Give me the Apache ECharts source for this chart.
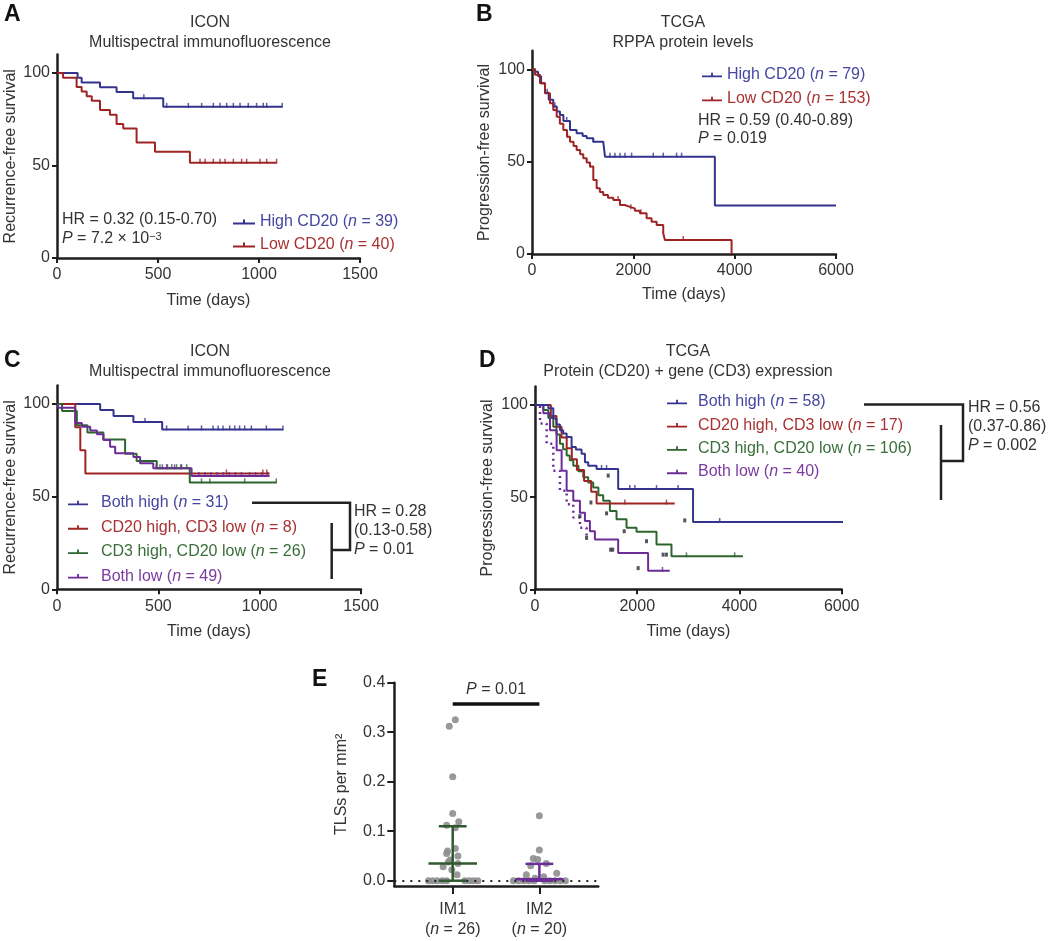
<!DOCTYPE html>
<html><head><meta charset="utf-8">
<script src="https://cdn.jsdelivr.net/npm/echarts@6/dist/echarts.min.js"></script>
<style>html,body{margin:0;padding:0;background:#fff}#c{width:1050px;height:941px}</style>
</head><body><div id="c"></div>
<script>
// ---------- Panel A (ICON, recurrence-free) ----------
const aHighT=[0,102,122,213,295,377,526,1115];
const aHighS=[100,97.4,94.9,92.3,89.7,86.4,81.7,81.7];
const aHighCens=[430,543,650,716,774,807,840,873,906,947,988,1021,1038,1115];
const aLowT=[0,30,97,122,147,172,213,262,295,328,394,485,658,1087];
const aLowS=[100,97.5,92.5,90,87.5,85,80,77.5,72.5,70,62.5,57.5,51.5,51.5];
const aLowCens=[708,733,774,807,832,873,914,939,1005,1038,1087];
// ---------- Panel B (TCGA RPPA) ----------
const bHighT=[0,60,120,180,256,330,420,490,552,620,750,880,1000,1079,1210,1406,1440,3609,6000];
const bHighS=[100,98.7,96.2,92.4,87.3,83.5,79.8,77.2,75.3,72.0,67.1,65.3,63.9,62.6,60.8,59.9,52.7,26.2,26.2];
const bHighCens=[300,450,685,1210,1538,1637,1736,1834,1966,2393,2591,2853,2952];
const bLowT=[0,60,158,256,355,420,487,550,618,690,750,820,881,950,1012,1080,1144,1210,1276,1340,1407,1500,1604,1736,1830,1933,2030,2130,2262,2360,2460,2590,2623,3939];
const bLowS=[100,97,92.4,87,81.6,78,74.3,70.5,67.1,63.5,60.8,58.5,56.3,54,51.8,49.5,47.3,40,35.6,33.5,31.9,30.5,29.2,26.5,25.5,24.7,23.4,22,19.3,17.5,15.7,11.2,7.6,0];
const bLowCens=[700,1150,1700,1950,2150,2985];
// ---------- Panel C (ICON, four groups) ----------
const cBHT=[0,213,279,377,519,1115];
const cBHS=[100,96.8,93.5,90.3,86.3,86.3];
const cBHCens=[434,541,647,713,770,795,819,852,877,901,926,959,1033,1115];
const cCD20T=[0,90,115,140,1049];
const cCD20S=[100,87.5,75,62.5,62.5];
const cCD20Cens=[836,1016,1035];
const cCD3T=[0,25,98,150,229,336,393,492,655,1082];
const cCD3S=[100,96.2,88.5,84.6,80.8,73.1,69.2,65.4,57.7,57.7];
const cCD3Cens=[508,541,566,590,615,640,713,754,926,1082];
const cBLT=[0,8,90,123,164,197,229,262,287,377,410,475,664,1049];
const cBLS=[100,98,89.8,87.8,85.7,83.7,80.6,77,73.4,71.4,68,65.3,61.2,61.2];
const cBLCens=[490,520,545,580,610,700,730,760,790,820,850,880,910,950,980,1010,1040];
// ---------- Panel D (TCGA protein + gene) ----------
const dBHT=[0,260,358,420,488,550,619,716,800,911,977,1041,1205,1627,3092,6150];
const dBHS=[100,98.2,92.7,89.5,86.3,84.5,82.7,77.2,75.9,73.5,69,67.1,65.3,54.4,36.5,36.5];
const dBHCens=[1302,1400,1855,1953,2377,2799,3613];
const dCD20T=[0,310,420,520,620,720,820,960,1100,1205,2734];
const dCD20S=[100,94.1,88.2,82.4,76.5,70.6,64.7,58.8,52.9,46.5,46.5];
const dCD20Cens=[1758,2572];
const dCD3T=[0,163,260,358,420,488,550,619,680,749,850,944,1040,1139,1240,1334,1465,1595,1791,1986,2377,2670,4068];
const dCD3S=[100,97.3,93,88.2,84,79,76,72.6,70,67.1,64,60.8,58,55.3,51,48,42.5,38,33.4,31.2,24.3,17.9,17.9];
const dCD3Cens=[2963,3906];
const dBLT=[0,163,293,423,521,619,749,879,977,1074,1172,1627,2213,2637];
const dBLS=[100,95.5,86.3,75.4,64.4,53.5,48,41.6,37,31.5,27,19.7,10,10];
const dBLCens=[2494];
const dDotT=[0,98,228,358,488,619,749,879,1009];
const dDotS=[100,90,79,64.4,53.5,46.2,38.9,33.4,27];
const dDotMarks=[[879,39.7],[1009,27.9],[1094,47.1],[1400,41.2],[1432,61.7],[1480,21.5],[1520,21.5],[1745,31.5],[2018,11.5],[2181,26.1],[2506,18.8],[2571,18.8],[2930,37.4]];
// ---------- Panel E (TLS density) ----------
const eCats=['IM1','IM2'];
const eN=[26,20];
const im1Vals=[0.325,0.312,0.21,0.136,0.119,0.112,0.107,0.065,0.06,0.055,0.05,0.042,0.038,0.035,0.028,0.022,0.012,0,0,0,0,0,0,0,0,0];
const im1Jit=[0.03,-0.04,0,0,0.07,-0.07,0.03,0.03,-0.06,-0.07,0.06,-0.03,-0.05,0.06,-0.11,-0.01,0.05,-0.28,-0.23,-0.18,-0.12,-0.07,0.14,0.19,0.24,0.29];
const im2Vals=[0.131,0.062,0.045,0.043,0.035,0.03,0.015,0.012,0.008,0.005,0,0,0,0,0,0,0,0,0,0];
const im2Jit=[0,0,-0.07,-0.02,0.08,-0.1,0.2,-0.15,0.05,-0.05,-0.3,-0.24,-0.18,-0.12,-0.06,0.06,0.12,0.18,0.24,0.3];
const eQ1=[0,0], eMed=[0.035,0.003], eQ3=[0.11,0.034];
const ePBar=0.358;

// ---------- styling ----------
const FONT="'Liberation Sans', Arial, Helvetica, sans-serif";
const TXT='#333';
const AX='#1e1e1e';
const COL={blue:'#34348f',red:'#9e2424',green:'#2d662d',purple:'#6c2c98'};
const LCOL={blue:'#4646a0',red:'#a83232',green:'#3a6e3a',purple:'#7a3aa0'};

function survAt(T,S,t){let s=S[0];for(let i=0;i<T.length;i++){if(T[i]<=t)s=S[i];else break;}return s;}
const series=[];
function km(name,T,S,cens,c,idx,extra){
  series.push(Object.assign({type:'line',name,step:'end',xAxisIndex:idx,yAxisIndex:idx,
    data:T.map((t,i)=>[t,S[i]]),symbol:'none',showSymbol:false,
    lineStyle:{color:c,width:2},itemStyle:{color:c},silent:true,z:3},extra||{}));
  if(cens&&cens.length) series.push({type:'scatter',xAxisIndex:idx,yAxisIndex:idx,silent:true,
    data:cens.map(t=>[t,survAt(T,S,t)]),symbol:'rect',symbolSize:[1.5,5],symbolOffset:[0,-1.5],
    itemStyle:{color:c},z:4,clip:false});
}
km('High CD20 (n = 39)',aHighT,aHighS,aHighCens,COL.blue,0);
km('Low CD20 (n = 40)',aLowT,aLowS,aLowCens,COL.red,0);
km('High CD20 (n = 79)',bHighT,bHighS,bHighCens,COL.blue,1);
km('Low CD20 (n = 153)',bLowT,bLowS,bLowCens,COL.red,1);
km('Both high (n = 31)',cBHT,cBHS,cBHCens,COL.blue,2);
km('CD20 high, CD3 low (n = 8)',cCD20T,cCD20S,cCD20Cens,COL.red,2);
km('CD3 high, CD20 low (n = 26)',cCD3T,cCD3S,cCD3Cens,COL.green,2);
km('Both low (n = 49)',cBLT,cBLS,cBLCens,COL.purple,2);
km('Both low dotted',dDotT,dDotS,null,COL.purple,3,{lineStyle:{color:COL.purple,width:2.5,type:[2,4]}});
km('CD3 high, CD20 low (n = 106)',dCD3T,dCD3S,dCD3Cens,COL.green,3);
km('CD20 high, CD3 low (n = 17)',dCD20T,dCD20S,dCD20Cens,COL.red,3);
km('Both low (n = 40)',dBLT,dBLS,dBLCens,COL.purple,3);
km('Both high (n = 58)',dBHT,dBHS,dBHCens,COL.blue,3,{clip:false});
series.push({type:'scatter',xAxisIndex:3,yAxisIndex:3,silent:true,data:dDotMarks,symbol:'rect',
  symbolSize:[3,4],itemStyle:{color:'#2a2a3a'},z:4});

// Panel E
series.push({type:'scatter',xAxisIndex:4,yAxisIndex:4,silent:true,z:2,symbolSize:7,
  itemStyle:{color:'#8e8e8e',opacity:0.9},
  data:im1Vals.map((v,i)=>[0+im1Jit[i],v]),
  markLine:{silent:true,symbol:'none',animation:false,
    data:[{yAxis:0,lineStyle:{type:[2,6],color:'#222',width:2},label:{show:false}},
      [{coord:[0,ePBar],lineStyle:{type:'solid',color:'#111',width:3.5},
        label:{show:true,position:'middle',distance:6,formatter:'{i|P}{t| = 0.01}',
          rich:{i:{fontStyle:'italic',fontSize:16,fontFamily:FONT,color:TXT},t:{fontSize:16,fontFamily:FONT,color:TXT}}}},
       {coord:[1,ePBar]}]]}});
series.push({type:'scatter',xAxisIndex:4,yAxisIndex:4,silent:true,z:2,symbolSize:7,
  itemStyle:{color:'#8e8e8e',opacity:0.9},data:im2Vals.map((v,i)=>[1+im2Jit[i],v])});
series.push({type:'custom',xAxisIndex:4,yAxisIndex:4,silent:true,z:5,
  data:eCats.map((c,i)=>[i,eQ1[i],eMed[i],eQ3[i]]),
  renderItem(params,api){
    const x=api.value(0),lo=api.value(1),md=api.value(2),hi=api.value(3);
    const c=['#2f5a2f','#6c2c98'][params.dataIndex];
    const seg=(a,b)=>{const p=api.coord(a),q=api.coord(b);return {type:'line',shape:{x1:p[0],y1:p[1],x2:q[0],y2:q[1]},style:{stroke:c,lineWidth:2.5}};};
    return {type:'group',children:[seg([x-0.28,md],[x+0.28,md]),seg([x,lo],[x,hi]),seg([x-0.16,hi],[x+0.16,hi]),seg([x-0.16,lo],[x+0.16,lo])]};
  }});

// ---------- axes ----------
const lblStyle={fontSize:16,color:TXT,fontFamily:FONT};
function kmX(idx,max,interval,gap){return {gridIndex:idx,type:'value',min:0,max,interval,
  name:'Time (days)',nameLocation:'middle',nameGap:gap,nameTextStyle:lblStyle,
  axisLine:{onZero:false,lineStyle:{color:AX,width:2.5}},axisTick:{length:5,lineStyle:{color:AX,width:2}},
  axisLabel:Object.assign({margin:9,formatter:v=>String(v)},lblStyle),splitLine:{show:false}};}
function kmY(idx,name,gap){return {gridIndex:idx,type:'value',min:0,max:110,
  name,nameLocation:'middle',nameGap:gap,nameTextStyle:lblStyle,
  axisLine:{onZero:false,lineStyle:{color:AX,width:2.5}},
  axisTick:{length:5,customValues:[0,50,100],lineStyle:{color:AX,width:2}},
  axisLabel:Object.assign({margin:7,customValues:[0,50,100],formatter:v=>String(v)},lblStyle),splitLine:{show:false}};}

const italicRich={t:{fontSize:16,fontFamily:FONT},i:{fontSize:16,fontFamily:FONT,fontStyle:'italic'}};
function nFmt(name){const m=name.match(/^(.*\()n( = .*)$/);return m?'{t|'+m[1]+'}{i|n}{t|'+m[2]+'}':name;}
function leg(names,cols,left,top,gap,w,pad){
  const rich={t:Object.assign({},italicRich.t),i:Object.assign({},italicRich.i)};
  if(pad){rich.p={fontSize:16,fontFamily:FONT,padding:[0,0,0,pad]};}
  return {orient:'vertical',left,top,itemGap:gap,itemWidth:w,itemHeight:5,padding:0,selectedMode:false,
    icon:'path://M0,5 L10,5 L10,2 L12,2 L12,5 L22,5 L22,7 L0,7 Z',
    formatter:n=>{let s=nFmt(n);if(pad)s='{p|}'+s;return s;},
    textStyle:{fontSize:16,fontFamily:FONT,lineHeight:16,rich},
    data:names.map((n,i)=>({name:n,textStyle:{color:cols[i]}}))};
}

// ---------- graphic annotations ----------
const G=[];
function txt(x,y,text,opt){G.push({type:'text',x,y,silent:true,style:Object.assign({text,fill:TXT,fontSize:16,fontFamily:FONT,align:'left',verticalAlign:'middle'},opt||{})});}
function rtxt(x,y,text,opt){txt(x,y,text,Object.assign({rich:{
  t:{fontSize:16,fontFamily:FONT,fill:TXT},i:{fontSize:16,fontFamily:FONT,fontStyle:'italic',fill:TXT},
  s:{fontSize:11,fontFamily:FONT,fill:TXT,verticalAlign:'top',lineHeight:11}}},opt||{}));}
function poly(pts){G.push({type:'polyline',silent:true,shape:{points:pts},style:{stroke:'#222',lineWidth:2.5,fill:null}});}
[['A',4,15],['B',476,15],['C',4,361],['D',479,361],['E',312,680]].forEach(([l,x,y])=>txt(x,y,l,{fontSize:23,fontWeight:'bold',fill:'#111'}));
txt(210,23,'ICON',{align:'center'});txt(210,43,'Multispectral immunofluorescence',{align:'center'});
txt(683,23,'TCGA',{align:'center'});txt(683,43,'RPPA protein levels',{align:'center'});
txt(210,352,'ICON',{align:'center'});txt(210,372,'Multispectral immunofluorescence',{align:'center'});
txt(688,352,'TCGA',{align:'center'});txt(688,372,'Protein (CD20) + gene (CD3) expression',{align:'center'});
txt(62,220,'HR = 0.32 (0.15-0.70)');
rtxt(62,239,'{i|P}{t| = 7.2 × 10}{s|−3}');
txt(698,121,'HR = 0.59 (0.40-0.89)');
rtxt(698,139,'{i|P}{t| = 0.019}');
txt(354,512,'HR = 0.28');txt(354,531,'(0.13-0.58)');rtxt(354,550,'{i|P}{t| = 0.01}');
poly([[252,502.7],[350,502.7],[350,550],[331.7,550]]);poly([[331.7,523],[331.7,579]]);
txt(968,408,'HR = 0.56');txt(968,427,'(0.37-0.86)');rtxt(968,446,'{i|P}{t| = 0.002}');
poly([[864,404.5],[963,404.5],[963,461],[941,461]]);poly([[941,425],[941,500]]);

const option={
  backgroundColor:'#fff',animation:false,
  grid:[
    {left:57,top:54.5,width:303,height:203.5},
    {left:532,top:50.8,width:304,height:203.2},
    {left:57,top:385.5,width:304,height:203.8},
    {left:535,top:386.6,width:306.7,height:202.7},
    {left:394.3,top:682.7,width:204,height:203.3}],
  xAxis:[kmX(0,1500,500,35),kmX(1,6000,2000,33),kmX(2,1500,500,34),kmX(3,6000,2000,34),
    {gridIndex:4,type:'value',min:-0.674,max:1.68,
     axisLine:{onZero:false,lineStyle:{color:AX,width:2.5}},
     axisTick:{length:8,customValues:[0,1],lineStyle:{color:AX,width:2}},
     axisLabel:{margin:14,customValues:[0,1],lineHeight:20,
       formatter:v=>{const i=Math.round(v);return '{t|'+eCats[i]+'}\n{t|(}{i|n}{t| = '+eN[i]+')}';},
       rich:{t:{fontSize:16,fontFamily:FONT,color:TXT,lineHeight:20},i:{fontSize:16,fontFamily:FONT,fontStyle:'italic',color:TXT,lineHeight:20}}},
     splitLine:{show:false}}],
  yAxis:[kmY(0,'Recurrence-free survival',38),kmY(1,'Progression-free survival',39),
    kmY(2,'Recurrence-free survival',38),kmY(3,'Progression-free survival',39),
    {gridIndex:4,type:'value',min:-0.0107,max:0.4,name:'TLSs per mm²',nameLocation:'middle',nameGap:45,nameTextStyle:lblStyle,
     axisLine:{onZero:false,lineStyle:{color:AX,width:2.5}},
     axisTick:{length:7,customValues:[0,0.1,0.2,0.3,0.4],lineStyle:{color:AX,width:2}},
     axisLabel:Object.assign({margin:9,customValues:[0,0.1,0.2,0.3,0.4],formatter:v=>v.toFixed(1)},lblStyle),
     splitLine:{show:false}}],
  legend:[
    leg(['High CD20 (n = 39)','Low CD20 (n = 40)'],[LCOL.blue,LCOL.red],233,214,7,22,0),
    leg(['High CD20 (n = 79)','Low CD20 (n = 153)'],[LCOL.blue,LCOL.red],702,67,8,20,0),
    leg(['Both high (n = 31)','CD20 high, CD3 low (n = 8)','CD3 high, CD20 low (n = 26)','Both low (n = 49)'],
        [LCOL.blue,LCOL.red,LCOL.green,LCOL.purple],68,495,8.4,20,8),
    leg(['Both high (n = 58)','CD20 high, CD3 low (n = 17)','CD3 high, CD20 low (n = 106)','Both low (n = 40)'],
        [LCOL.blue,LCOL.red,LCOL.green,LCOL.purple],667,394,7.3,20,6)],
  graphic:G,
  series
};
const chart=echarts.init(document.getElementById('c'),null,{renderer:'canvas'});
chart.setOption(option);
</script></body></html>
